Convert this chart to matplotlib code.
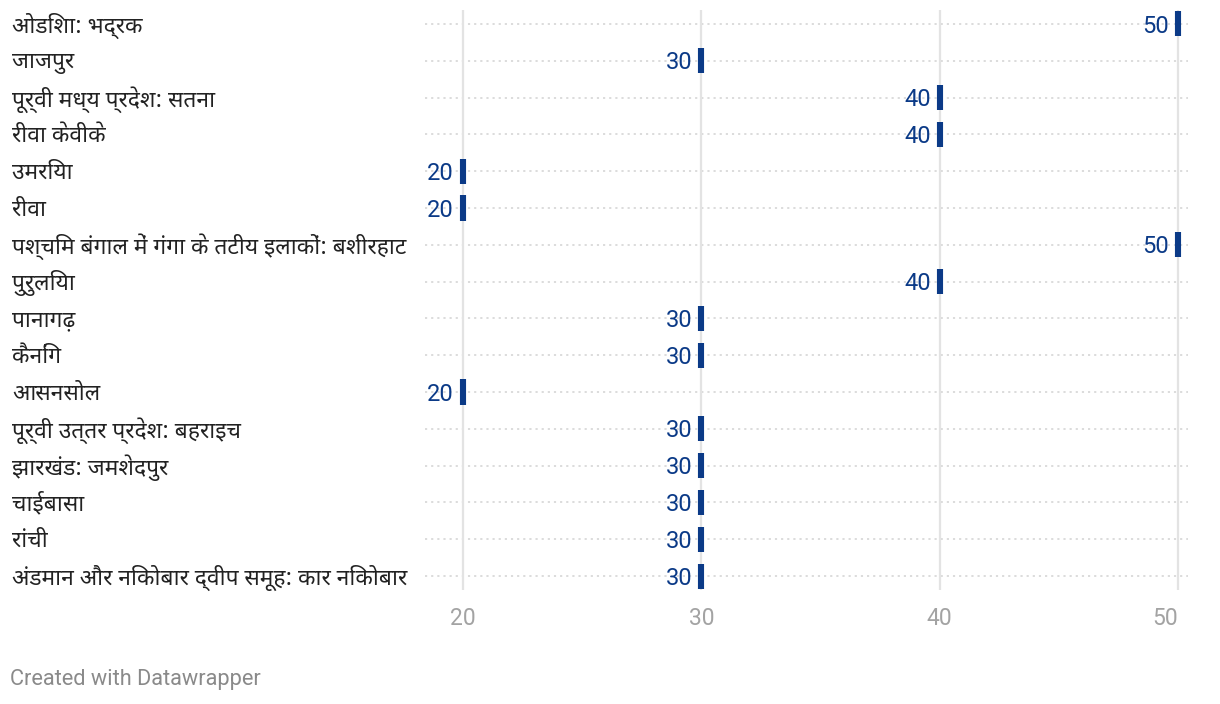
import matplotlib
matplotlib.use("Agg")
import matplotlib.pyplot as plt
import matplotlib.transforms as mtransforms
import logging

logging.getLogger("matplotlib.font_manager").setLevel(logging.ERROR)

# data, top row first
labels = [
    "ओडिशा: भद्रक",
    "जाजपुर",
    "पूर्वी मध्य प्रदेश: सतना",
    "रीवा केवीके",
    "उमरिया",
    "रीवा",
    "पश्चिम बंगाल में गंगा के तटीय इलाकों: बशीरहाट",
    "पुरुलिया",
    "पानागढ़",
    "कैनिंग",
    "आसनसोल",
    "पूर्वी उत्तर प्रदेश: बहराइच",
    "झारखंड: जमशेदपुर",
    "चाईबासा",
    "रांची",
    "अंडमान और निकोबार द्वीप समूह: कार निकोबार",
]
values = [50, 30, 40, 40, 20, 20, 50, 40, 30, 30, 20, 30, 30, 30, 30, 30]
xticks = [20, 30, 40, 50]

hindi_fonts = ["Noto Sans Devanagari", "Noto Sans", "Lohit Devanagari",
               "FreeSans", "DejaVu Sans"]
num_fonts = ["Roboto", "DejaVu Sans"]
bar_color = "#0b3a87"

W, H = 1220, 704
fig = plt.figure(figsize=(W / 100, H / 100), dpi=100)
ax = fig.add_axes([425 / W, 1 - 590 / H, (1188 - 425) / W, (590 - 10) / H])

rows = list(range(len(labels)))
ax.set_xlim(18.4, 50.42)
ax.set_ylim(len(labels) - 1 + 0.38, -0.38)

# grid lines
for t in xticks:
    ax.axvline(t, color="#e3e3e3", lw=1.6, zorder=1)
for r in rows:
    ax.axhline(r, color="#d9d9d9", lw=1.3, ls=(0, (1.2, 2.2)), zorder=0)

# value markers
ax.vlines(values, [r - 0.34 for r in rows], [r + 0.34 for r in rows],
          color=bar_color, lw=4.4, zorder=3)

for r, v in zip(rows, values):
    ax.annotate(str(v), (v, r), xytext=(-6.5, -1.5), textcoords="offset points",
                ha="right", va="center", fontsize=17, color=bar_color,
                family=num_fonts, zorder=4)

# category labels at the left edge of the figure
trans = mtransforms.blended_transform_factory(fig.transFigure, ax.transData)
for r, lab in zip(rows, labels):
    ax.annotate(lab, (12 / W, r), xycoords=trans, xytext=(0, -1.2),
                textcoords="offset points", ha="left", va="center",
                fontsize=16.4, color="#222222", family=hindi_fonts,
                annotation_clip=False)

ax.set_xticks(xticks)
ax.set_xticklabels([str(t) for t in xticks], family=num_fonts, fontsize=16.5,
                   color="#a3a3a3")
ax.get_xticklabels()[-1].set_ha("right")
ax.tick_params(axis="x", length=0, pad=12)
ax.set_yticks([])
for s in ax.spines.values():
    s.set_visible(False)

fig.text(10 / W, 1 - 679 / H, "Created with Datawrapper", ha="left",
         va="center", fontsize=15.7, color="#8a8a8a", family=num_fonts)

fig.savefig("out.png", dpi=100, facecolor="white")
